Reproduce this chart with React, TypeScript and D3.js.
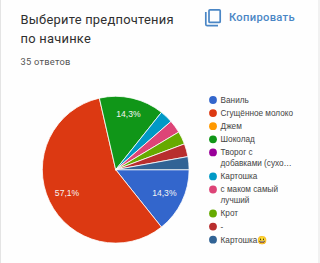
import { pie, arc, scaleOrdinal } from "d3";

const categories = [
  "Ваниль",
  "Сгущённое молоко",
  "Джем",
  "Шоколад",
  "Творог с добавками (сухо...",
  "Картошка",
  "с маком самый лучший",
  "Крот",
  "-",
  "Картошка😀",
];
const answers = [5, 20, 0, 5, 0, 1, 1, 1, 1, 1];
const colors = ["#3366cc", "#dc3912", "#ff9900", "#109618", "#990099", "#0099c6", "#dd4477", "#66aa00", "#b82e2e", "#316395"];
// wrapped the way the legend wraps them
const legendLines = [
  ["Ваниль"],
  ["Сгущённое молоко"],
  ["Джем"],
  ["Шоколад"],
  ["Творог с", "добавками (сухо…"],
  ["Картошка"],
  ["с маком самый", "лучший"],
  ["Крот"],
  ["-"],
  ["Картошка"],
];
const legendEmoji = ["", "", "", "", "", "", "", "", "", "😀"];
const titleLines = ["Выберите предпочтения", "по начинке"];
const subtitle = "35 ответов";
const copyLabel = "Копировать";

const width = 320;
const height = 263;
const center = { x: 115.7, y: 169.7 };
const radius = 73.4;
const font = "Roboto, Arial, sans-serif";
const chartFont = "'Liberation Sans', Arial, sans-serif";

const color = scaleOrdinal<string, string>().domain(categories).range(colors);

const App = () => {
  const total = answers.reduce((a, b) => a + b, 0);
  // starts at 3 o'clock, goes clockwise
  const slices = pie<number>()
    .sort(null)
    .startAngle(Math.PI / 2)
    .endAngle(Math.PI / 2 + Math.PI * 2)(answers);
  const sliceArc = arc<any>().innerRadius(0).outerRadius(radius);

  let legendY = 100;

  return (
    <svg
      width={width}
      height={height}
      style={{ position: "fixed", left: 0, top: 0, background: "#fefefe" }}
    >
      <rect x={0} y={0} width={1} height={height} fill="#e4e4e4" />
      <rect x={318} y={0} width={2} height={height} fill="#f1f1f1" />

      {titleLines.map((line, i) => (
        <text key={line} x={20.5} y={23.6 + i * 19.5} fontFamily={font} fontSize={12.9} fill="#2f2f2f" style={{ letterSpacing: 0.25 }}>
          {line}
        </text>
      ))}
      <text x={20.5} y={64.6} fontFamily={font} fontSize={9.3} fill="#555" style={{ letterSpacing: 0.25 }}>
        {subtitle}
      </text>

      <g fill="none" stroke="#4a86c5" strokeWidth={1.7}>
        <rect x={209} y={9.8} width={11.2} height={12.6} rx={1} />
        <path d="M205.8 12 V24.2 a1.5 1.5 0 0 0 1.5 1.5 H218" />
      </g>
      <text x={229} y={20.8} fontFamily={font} fontSize={11.2} fontWeight={500} fill="#4a86c5" style={{ letterSpacing: 0.3 }}>
        {copyLabel}
      </text>

      <g transform={`translate(${center.x},${center.y})`}>
        {slices.map((d, i) =>
          d.value > 0 ? (
            <path key={categories[i]} d={sliceArc(d) as string} fill={color(categories[i])} stroke="#fff" strokeWidth={0.8} strokeLinejoin="round" />
          ) : null,
        )}
        {slices.map((d, i) => {
          if (d.value / total < 0.1) return null;
          const mid = (d.startAngle + d.endAngle) / 2;
          // labels over the centre sit a bit further out
          const r = Math.cos(mid) > 0 ? 57 : 54;
          const x = Math.sin(mid) * r;
          const y = -Math.cos(mid) * r;
          return (
            <text key={categories[i]} x={x} y={y} dy="0.35em" textAnchor="middle" fontFamily={chartFont} fontSize={8.6} fill="#f4f4f4">
              {((d.value / total) * 100).toFixed(1).replace(".", ",")}%
            </text>
          );
        })}
      </g>

      {legendLines.map((lines, i) => {
        const y = legendY;
        legendY += lines.length === 2 ? 24 : 13.1;
        return (
          <g key={categories[i]}>
            <circle cx={213} cy={y} r={3.9} fill={colors[i]} />
            {lines.map((line, j) => (
              <text key={line} x={220.6} y={y + 2.9 + j * 10.6} fontFamily={chartFont} fontSize={8.2} fill="#444">
                {line}
                {legendEmoji[i] && (
                  <tspan fill="#e8a33a" dx={-0.5}>{legendEmoji[i]}</tspan>
                )}
              </text>
            ))}
          </g>
        );
      })}
    </svg>
  );
};

export default App;
